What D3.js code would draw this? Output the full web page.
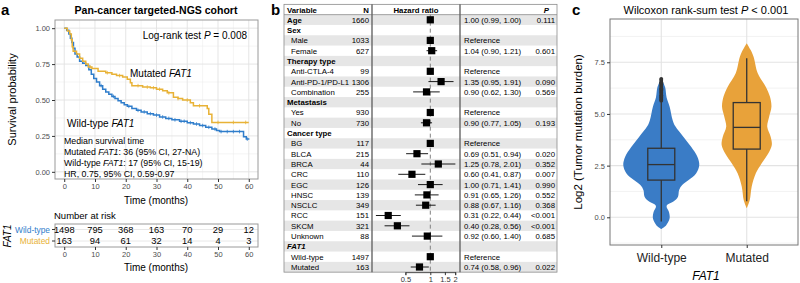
<!DOCTYPE html>
<html>
<head>
<meta charset="utf-8">
<script src="https://cdn.jsdelivr.net/npm/d3@7"></script>
<style>
  body { margin: 0; background: #fff; }
  text { font-family: "Liberation Sans", Arial, sans-serif; }
</style>
</head>
<body>
<div id="fig"></div>
<script>
'use strict'

// ---- Data: Kaplan-Meier (panel a) ----
const kmTimesWT = [0, 0.8, 1.5, 2.0, 2.5, 3.0, 3.5, 4.2, 5.0, 6.0, 7.0, 8.0, 8.8, 9.6, 10.5, 11.5, 12.5, 13.5, 14.5, 15.5,
    16.5, 17.5, 18.5, 19.5, 20.5, 22, 23.5, 25, 27, 29, 31, 33, 35, 37.5, 40, 42, 44, 46, 48, 49.5, 50.5, 58.3, 59.2, 60.2];
const kmSurvWT = [1.0, 0.985, 0.96, 0.93, 0.90, 0.86, 0.82, 0.80, 0.77, 0.755, 0.74, 0.71, 0.68, 0.65, 0.625, 0.60, 0.575, 0.555, 0.54, 0.525,
    0.51, 0.495, 0.48, 0.467, 0.456, 0.44, 0.428, 0.417, 0.405, 0.395, 0.382, 0.372, 0.362, 0.352, 0.342, 0.333, 0.322, 0.31, 0.298, 0.288, 0.28, 0.245, 0.228, 0.228];
const kmTimesMut = [0, 1.0, 1.8, 2.3, 2.6, 2.9, 4.0, 5.0, 6.0, 7.0, 7.8, 9.0, 11.0, 13.5, 15.5, 17.0, 19.0, 20.5, 21.5, 22.0,
    25.5, 28.0, 30.0, 32.0, 33.5, 35.5, 37.0, 38.5, 41.0, 42.0, 46.5, 47.0, 48.0, 60.0];
const kmSurvMut = [1.0, 0.98, 0.96, 0.92, 0.87, 0.84, 0.82, 0.79, 0.77, 0.75, 0.73, 0.72, 0.70, 0.69, 0.68, 0.67, 0.66, 0.645, 0.62, 0.60,
    0.59, 0.585, 0.575, 0.565, 0.55, 0.52, 0.51, 0.50, 0.48, 0.46, 0.44, 0.40, 0.344, 0.344];
const censorWT = [12, 16, 21, 24, 26, 28, 30, 32, 34, 36, 38, 39, 41, 43, 45, 47, 49, 51, 53, 55, 57, 59.5];
const censorMut = [8.5, 14, 18, 24, 27, 29, 31, 34, 37, 40, 44, 50, 55, 59];

const riskTimes = [0, 10, 20, 30, 40, 50, 60];
const riskWT = [1498, 795, 368, 163, 70, 29, 12];
const riskMut = [163, 94, 61, 32, 14, 4, 3];

// ---- Data: forest plot (panel b) ----
const forestLabels = ['Age', 'Sex', 'Male', 'Female', 'Therapy type', 'Anti-CTLA-4', 'Anti-PD-1/PD-L1', 'Combination',
    'Metastasis', 'Yes', 'No', 'Cancer type', 'BG', 'BLCA', 'BRCA', 'CRC', 'EGC', 'HNSC', 'NSCLC', 'RCC', 'SKCM', 'Unknown',
    'FAT1', 'Wild-type', 'Mutated'];
const forestGroups = ['Age', 'Sex', 'Therapy type', 'Metastasis', 'Cancer type', 'FAT1'];
const forestN = [1660, null, 1033, 627, null, 99, 1306, 255, null, 930, 730, null, 117, 215, 44, 110, 126, 139, 349, 151, 321, 88, null, 1497, 163];
const forestHR = [1.00, null, 1, 1.04, null, 1, 1.35, 0.90, null, 1, 0.90, null, 1, 0.69, 1.25, 0.60, 1.00, 0.91, 0.88, 0.31, 0.40, 0.92, null, 1, 0.74];
const forestLo = [0.99, null, null, 0.90, null, null, 0.95, 0.62, null, null, 0.77, null, null, 0.51, 0.78, 0.41, 0.71, 0.65, 0.67, 0.22, 0.28, 0.60, null, null, 0.58];
const forestHi = [1.00, null, null, 1.21, null, null, 1.91, 1.30, null, null, 1.05, null, null, 0.94, 2.01, 0.87, 1.41, 1.26, 1.16, 0.44, 0.56, 1.40, null, null, 0.96];
const forestP = ['0.111', '', '', '0.601', '', '', '0.090', '0.569', '', '', '0.193', '', '', '0.020', '0.352', '0.007', '0.990',
    '0.552', '0.368', '<0.001', '<0.001', '0.685', '', '', '0.022'];
const forestTicks = [0.5, 1, 1.5, 2];

// ---- Data: violin (panel c) ----
const groups = ['Wild-type', 'Mutated'];
const violinWT_v = [-0.57, -0.38, -0.05, 0.27, 0.55, 0.76, 1.0, 1.32, 1.56, 1.8, 2.13, 2.53, 2.93, 3.4, 3.9, 4.4, 4.7, 5.35, 5.8, 6.3, 6.72];
const violinWT_d = [0, 0.13, 0.22, 0.2, 0.14, 0.32, 0.44, 0.47, 0.55, 0.72, 0.92, 1.0, 0.95, 0.79, 0.58, 0.37, 0.3, 0.22, 0.14, 0.1, 0];
const violinMut_v = [0.44, 0.84, 1.48, 2.13, 2.6, 3.1, 3.5, 3.9, 4.38, 4.87, 5.35, 5.84, 6.32, 6.97, 7.77, 8.1, 8.42];
const violinMut_d = [0, 0.08, 0.13, 0.24, 0.39, 0.57, 0.66, 0.63, 0.54, 0.59, 0.65, 0.61, 0.5, 0.29, 0.18, 0.1, 0];
const boxQ1 = [1.8, 3.3], boxMed = [2.55, 4.35], boxQ3 = [3.34, 5.55];
const whiskLo = [-0.2, 0.78], whiskHi = [5.6, 7.69];
const outliersWT = [5.64, 5.69, 5.74, 5.8, 5.85, 5.9, 5.96, 6.02, 6.07, 6.13, 6.19, 6.24, 6.3, 6.36, 6.42, 6.48, 6.53, 6.59, 6.65, 6.7];
const violinTicks = [0, 2.5, 5, 7.5];

// Colours
const kmBlue = '#2f7dcb', kmGold = '#e8b236';
const vBlue = '#3a7cc6', vOrange = '#e8a23a';

const svg = d3.select('#fig').append('svg')
    .attr('width', 800).attr('height', 283)
    .attr('viewBox', [0, 0, 800, 283]);

function panelLetter(x, t) {
    svg.append('text').attr('x', x).attr('y', 15).attr('font-size', 15).attr('font-weight', 'bold').text(t);
}

// ===================== Panel a =====================
panelLetter(1, 'a');
const kmBox = {left: 55, right: 258, top: 20, bottom: 179};
const x = d3.scaleLinear().domain([-3, 63]).range([kmBox.left, kmBox.right]);
const y = d3.scaleLinear().domain([-0.05, 1.05]).range([kmBox.bottom, kmBox.top + 1]);

svg.append('text').attr('x', 156).attr('y', 14).attr('text-anchor', 'middle')
    .attr('font-size', 10.5).attr('font-weight', 'bold').text('Pan-cancer targeted-NGS cohort');

const ga = svg.append('g');
// grid
ga.selectAll('.gmx').data(d3.range(5, 61, 10)).join('line')
    .attr('x1', d => x(d)).attr('x2', d => x(d)).attr('y1', kmBox.top).attr('y2', kmBox.bottom)
    .attr('stroke', '#ebebeb').attr('stroke-width', 0.5);
ga.selectAll('.gmy').data([0.125, 0.375, 0.625, 0.875]).join('line')
    .attr('y1', d => y(d)).attr('y2', d => y(d)).attr('x1', kmBox.left).attr('x2', kmBox.right)
    .attr('stroke', '#ebebeb').attr('stroke-width', 0.5);
ga.selectAll('.gx').data(riskTimes).join('line')
    .attr('x1', d => x(d)).attr('x2', d => x(d)).attr('y1', kmBox.top).attr('y2', kmBox.bottom)
    .attr('stroke', '#e2e2e2').attr('stroke-width', 0.9);
ga.selectAll('.gy').data([0, 0.25, 0.5, 0.75, 1]).join('line')
    .attr('y1', d => y(d)).attr('y2', d => y(d)).attr('x1', kmBox.left).attr('x2', kmBox.right)
    .attr('stroke', '#e2e2e2').attr('stroke-width', 0.9);

// curves
const kmLine = d3.line().x(d => x(d[0])).y(d => y(d[1])).curve(d3.curveStepAfter);
const stepAt = (ts, ss, t) => { let s = ss[0]; ts.forEach((tt, i) => { if (tt <= t) s = ss[i]; }); return s; };

ga.append('path').datum(d3.zip(kmTimesWT, kmSurvWT)).attr('d', kmLine)
    .attr('fill', 'none').attr('stroke', kmBlue).attr('stroke-width', 1.5);
ga.append('path').datum(d3.zip(kmTimesMut, kmSurvMut)).attr('d', kmLine)
    .attr('fill', 'none').attr('stroke', kmGold).attr('stroke-width', 1.5);
ga.selectAll('.cw').data(censorWT).join('line')
    .attr('x1', d => x(d)).attr('x2', d => x(d))
    .attr('y1', d => y(stepAt(kmTimesWT, kmSurvWT, d)) - 1.8).attr('y2', d => y(stepAt(kmTimesWT, kmSurvWT, d)) + 1.8)
    .attr('stroke', kmBlue).attr('stroke-width', 0.8);
ga.selectAll('.cm').data(censorMut).join('line')
    .attr('x1', d => x(d)).attr('x2', d => x(d))
    .attr('y1', d => y(stepAt(kmTimesMut, kmSurvMut, d)) - 1.8).attr('y2', d => y(stepAt(kmTimesMut, kmSurvMut, d)) + 1.8)
    .attr('stroke', kmGold).attr('stroke-width', 0.8);

ga.append('rect').attr('x', kmBox.left).attr('y', kmBox.top)
    .attr('width', kmBox.right - kmBox.left).attr('height', kmBox.bottom - kmBox.top)
    .attr('fill', 'none').attr('stroke', '#9a9a9a').attr('stroke-width', 1);

// axes
const kmYAxis = svg.append('g').attr('transform', `translate(${kmBox.left},0)`)
    .call(d3.axisLeft(y).tickValues([0, 0.25, 0.5, 0.75, 1]).tickFormat(d3.format('.2f')).tickSize(3).tickPadding(2));
const kmXAxis = svg.append('g').attr('transform', `translate(0,${kmBox.bottom})`)
    .call(d3.axisBottom(x).tickValues(riskTimes).tickSize(3).tickPadding(2));
[kmYAxis, kmXAxis].forEach(g => {
    g.select('.domain').remove();
    g.selectAll('.tick line').attr('stroke', '#333');
    g.selectAll('.tick text').attr('font-size', 7.5).attr('fill', '#4d4d4d')
        .attr('font-family', '"Liberation Sans", Arial, sans-serif');
});
svg.append('text').attr('x', 156).attr('y', 204).attr('text-anchor', 'middle').attr('font-size', 10).text('Time (months)');
svg.append('text').attr('transform', `translate(16,${(kmBox.top + kmBox.bottom) / 2}) rotate(-90)`)
    .attr('text-anchor', 'middle').attr('font-size', 11).text('Survival probability');

// annotations
const ann = svg.append('g').attr('font-size', 10);
ann.append('text').attr('x', 247).attr('y', 39).attr('text-anchor', 'end')
    .html('Log-rank test <tspan font-style="italic">P</tspan> = 0.008');
ann.append('text').attr('x', 130).attr('y', 77).html('Mutated <tspan font-style="italic">FAT1</tspan>');
ann.append('text').attr('x', 67).attr('y', 127).html('Wild-type <tspan font-style="italic">FAT1</tspan>');
const med = svg.append('g').attr('font-size', 8.8);
med.append('text').attr('x', 64).attr('y', 143.5).text('Median survival time');
med.append('text').attr('x', 64).attr('y', 154.8).html('Mutated <tspan font-style="italic">FAT1</tspan>: 36 (95% CI, 27-NA)');
med.append('text').attr('x', 64).attr('y', 166).html('Wild-type <tspan font-style="italic">FAT1</tspan>: 17 (95% CI, 15-19)');
med.append('text').attr('x', 64).attr('y', 176.5).text('HR, 0.75, 95% CI, 0.59-0.97');

// risk table
const rt = {top: 224, bottom: 247};
const rowYs = [229.5, 241];
svg.append('text').attr('x', 54).attr('y', 219).attr('font-size', 9.5).text('Number at risk');
svg.selectAll('.rgx').data(riskTimes).join('line')
    .attr('x1', d => x(d)).attr('x2', d => x(d)).attr('y1', rt.top).attr('y2', rt.bottom)
    .attr('stroke', '#ebebeb').attr('stroke-width', 0.8);
svg.selectAll('.rgy').data(rowYs).join('line')
    .attr('x1', kmBox.left).attr('x2', kmBox.right).attr('y1', d => d).attr('y2', d => d)
    .attr('stroke', '#e2e2e2').attr('stroke-width', 0.8);
svg.append('rect').attr('x', kmBox.left).attr('y', rt.top)
    .attr('width', kmBox.right - kmBox.left).attr('height', rt.bottom - rt.top)
    .attr('fill', 'none').attr('stroke', '#9a9a9a');
[riskWT, riskMut].forEach((vals, r) => {
    svg.selectAll('.rn' + r).data(vals).join('text')
        .attr('x', (d, i) => x(riskTimes[i])).attr('y', rowYs[r] + 3.3)
        .attr('text-anchor', 'middle').attr('font-size', 9.3).text(d => d);
    svg.append('line').attr('x1', kmBox.left - 3).attr('x2', kmBox.left).attr('y1', rowYs[r]).attr('y2', rowYs[r]).attr('stroke', '#333');
    svg.append('text').attr('x', kmBox.left - 5).attr('y', rowYs[r] + 3).attr('text-anchor', 'end')
        .attr('font-size', 8.4).attr('fill', r === 0 ? kmBlue : kmGold).text(groups[r]);
});
const rtAxis = svg.append('g').attr('transform', `translate(0,${rt.bottom})`)
    .call(d3.axisBottom(x).tickValues(riskTimes).tickSize(3).tickPadding(2));
rtAxis.select('.domain').remove();
rtAxis.selectAll('.tick line').attr('stroke', '#333');
rtAxis.selectAll('.tick text').attr('font-size', 7.5).attr('fill', '#4d4d4d').attr('font-family', '"Liberation Sans", Arial, sans-serif');
svg.append('text').attr('x', 156).attr('y', 271).attr('text-anchor', 'middle').attr('font-size', 10).text('Time (months)');
svg.append('text').attr('transform', 'translate(11,236) rotate(-90)').attr('text-anchor', 'middle')
    .attr('font-size', 10).attr('font-style', 'italic').text('FAT1');

// ===================== Panel b =====================
panelLetter(271, 'b');
const tb = {left: 284, right: 557, col1: 372, col2: 460, top: 4.35, rowH: 10.3};
const rowTop = i => tb.top + i * tb.rowH;
const rowMid = i => rowTop(i) + tb.rowH / 2;
const hx = d3.scaleLog().domain([0.5, 2]).range([405.4, 455.2]);
const gb = svg.append('g').attr('font-size', 7.8);

// shading of odd rows (row 0 is header)
gb.selectAll('.shade').data(forestLabels).join('rect')
    .attr('x', tb.left).attr('width', tb.right - tb.left)
    .attr('y', (d, i) => rowTop(i + 1)).attr('height', tb.rowH)
    .attr('fill', (d, i) => (i % 2 === 0 ? '#e6e6e6' : 'none'));

// header
gb.append('text').attr('x', 287).attr('y', rowMid(0) + 3).attr('font-weight', 'bold').text('Variable');
gb.append('text').attr('x', 369).attr('y', rowMid(0) + 3).attr('font-weight', 'bold').attr('text-anchor', 'end').text('N');
gb.append('text').attr('x', 416).attr('y', rowMid(0) + 3).attr('font-weight', 'bold').attr('text-anchor', 'middle').text('Hazard ratio');
gb.append('text').attr('x', 549).attr('y', rowMid(0) + 3).attr('font-weight', 'bold').attr('font-style', 'italic')
    .attr('text-anchor', 'end').text('P');

const tableBottom = rowTop(forestLabels.length + 1);
// reference line at HR = 1
gb.append('line').attr('x1', hx(1)).attr('x2', hx(1)).attr('y1', rowTop(1)).attr('y2', tableBottom)
    .attr('stroke', '#808080').attr('stroke-width', 1).attr('stroke-dasharray', '4,3');

forestLabels.forEach((lab, k) => {
    const i = k + 1, yy = rowMid(i) + 2.9;
    const isGroup = forestGroups.includes(lab) && forestN[k] !== 1497;
    gb.append('text').attr('x', isGroup ? 287 : 291).attr('y', yy)
        .attr('font-weight', isGroup ? 'bold' : null)
        .attr('font-style', lab === 'FAT1' ? 'italic' : null).text(lab);
    if (forestN[k] !== null) gb.append('text').attr('x', 369).attr('y', yy).attr('text-anchor', 'end').text(forestN[k]);
    if (forestHR[k] !== null) {
        const ref = forestLo[k] === null;
        if (!ref) {
            gb.append('line').attr('x1', hx(forestLo[k])).attr('x2', hx(forestHi[k]))
                .attr('y1', rowMid(i)).attr('y2', rowMid(i)).attr('stroke', '#000').attr('stroke-width', 0.9);
        }
        gb.append('rect').attr('x', hx(forestHR[k]) - 3.6).attr('y', rowMid(i) - 3.6)
            .attr('width', 7.2).attr('height', 7.2).attr('fill', '#000');
        gb.append('text').attr('x', 464).attr('y', yy)
            .text(ref ? 'Reference' : `${forestHR[k].toFixed(2)} (${forestLo[k].toFixed(2)}, ${forestHi[k].toFixed(2)})`);
    }
    if (forestP[k]) gb.append('text').attr('x', 555).attr('y', yy).attr('text-anchor', 'end').text(forestP[k]);
});

// borders
gb.append('rect').attr('x', tb.left).attr('y', tb.top).attr('width', tb.right - tb.left).attr('height', tableBottom - tb.top)
    .attr('fill', 'none').attr('stroke', '#8c8c8c').attr('stroke-width', 0.8);
gb.append('line').attr('x1', tb.left).attr('x2', tb.right).attr('y1', rowTop(1)).attr('y2', rowTop(1))
    .attr('stroke', '#8c8c8c').attr('stroke-width', 0.8);
[tb.col1, tb.col2].forEach(cx => gb.append('line').attr('x1', cx).attr('x2', cx).attr('y1', tb.top).attr('y2', tableBottom)
    .attr('stroke', '#666').attr('stroke-width', 1.4));

// HR axis
const hrAxis = svg.append('g').attr('transform', `translate(0,${tableBottom})`)
    .call(d3.axisBottom(hx).tickValues(forestTicks).tickFormat(d => d).tickSize(3).tickPadding(1.5));
hrAxis.select('.domain').attr('stroke', '#333').attr('stroke-width', 0.8);
hrAxis.selectAll('.tick line').attr('stroke', '#333');
hrAxis.selectAll('.tick text').attr('font-size', 7.5).attr('fill', '#333').attr('font-family', '"Liberation Sans", Arial, sans-serif');

// ===================== Panel c =====================
panelLetter(572, 'c');
const vb = {left: 610, right: 798, top: 19, bottom: 245};
const vy = d3.scaleLinear().domain([(217.3 - 245) / 20.67, (217.3 - 19) / 20.67]).range([vb.bottom, vb.top]);
const vx = d3.scalePoint().domain(groups).range([vb.left, vb.right]).padding(0.6);
const vw = d3.scaleLinear().domain([0, 1]).range([0, 38]);

svg.append('text').attr('x', 706).attr('y', 14).attr('text-anchor', 'middle').attr('font-size', 11)
    .html('Wilcoxon rank-sum test <tspan font-style="italic">P</tspan> &lt; 0.001');

const gc = svg.append('g');
gc.selectAll('.vgmin').data([-1.25, 1.25, 3.75, 6.25, 8.75]).join('line')
    .attr('x1', vb.left).attr('x2', vb.right).attr('y1', d => vy(d)).attr('y2', d => vy(d))
    .attr('stroke', '#ebebeb').attr('stroke-width', 0.6);
gc.selectAll('.vgmaj').data(violinTicks).join('line')
    .attr('x1', vb.left).attr('x2', vb.right).attr('y1', d => vy(d)).attr('y2', d => vy(d))
    .attr('stroke', '#e3e3e3').attr('stroke-width', 1.1);
gc.selectAll('.vgx').data(groups).join('line')
    .attr('x1', d => vx(d)).attr('x2', d => vx(d)).attr('y1', vb.top).attr('y2', vb.bottom)
    .attr('stroke', '#e3e3e3').attr('stroke-width', 1.1);

const violinArea = cx => d3.area()
    .y(d => vy(d[0])).x0(d => cx - vw(d[1])).x1(d => cx + vw(d[1]))
    .curve(d3.curveCatmullRom);
[[violinWT_v, violinWT_d, vBlue], [violinMut_v, violinMut_d, vOrange]].forEach(([vs, ds, col], g) => {
    gc.append('path').datum(d3.zip(vs, ds)).attr('d', violinArea(vx(groups[g]))).attr('fill', col);
});

// box plots
groups.forEach((g, i) => {
    const cx = vx(g), hw = 13.5;
    gc.append('line').attr('x1', cx).attr('x2', cx).attr('y1', vy(whiskLo[i])).attr('y2', vy(boxQ1[i]))
        .attr('stroke', '#333').attr('stroke-width', 1.3);
    gc.append('line').attr('x1', cx).attr('x2', cx).attr('y1', vy(boxQ3[i])).attr('y2', vy(whiskHi[i]))
        .attr('stroke', '#333').attr('stroke-width', 1.3);
    gc.append('rect').attr('x', cx - hw).attr('width', hw * 2)
        .attr('y', vy(boxQ3[i])).attr('height', vy(boxQ1[i]) - vy(boxQ3[i]))
        .attr('fill', 'none').attr('stroke', '#333').attr('stroke-width', 1.3);
    gc.append('line').attr('x1', cx - hw).attr('x2', cx + hw).attr('y1', vy(boxMed[i])).attr('y2', vy(boxMed[i]))
        .attr('stroke', '#333').attr('stroke-width', 1.3);
});
gc.selectAll('.out').data(outliersWT).join('circle')
    .attr('cx', vx('Wild-type')).attr('cy', d => vy(d)).attr('r', 1.9).attr('fill', '#333');

gc.append('rect').attr('x', vb.left).attr('y', vb.top).attr('width', vb.right - vb.left).attr('height', vb.bottom - vb.top)
    .attr('fill', 'none').attr('stroke', '#777').attr('stroke-width', 1);

const vyAxis = svg.append('g').attr('transform', `translate(${vb.left},0)`)
    .call(d3.axisLeft(vy).tickValues(violinTicks).tickFormat(d3.format('.1f')).tickSize(3).tickPadding(2));
const vxAxis = svg.append('g').attr('transform', `translate(0,${vb.bottom})`)
    .call(d3.axisBottom(vx).tickSize(3).tickPadding(5));
[vyAxis, vxAxis].forEach(g => {
    g.select('.domain').remove();
    g.selectAll('.tick line').attr('stroke', '#333');
    g.selectAll('.tick text').attr('font-family', '"Liberation Sans", Arial, sans-serif');
});
vyAxis.selectAll('.tick text').attr('font-size', 7.5).attr('fill', '#4d4d4d');
vxAxis.selectAll('.tick text').attr('font-size', 12).attr('fill', '#222');
svg.append('text').attr('x', 706).attr('y', 280).attr('text-anchor', 'middle').attr('font-size', 12)
    .attr('font-style', 'italic').text('FAT1');
svg.append('text').attr('transform', `translate(582,${(vb.top + vb.bottom) / 2}) rotate(-90)`)
    .attr('text-anchor', 'middle').attr('font-size', 11.5).text('Log2 (Tumor mutation burden)');
</script>
</body>
</html>
